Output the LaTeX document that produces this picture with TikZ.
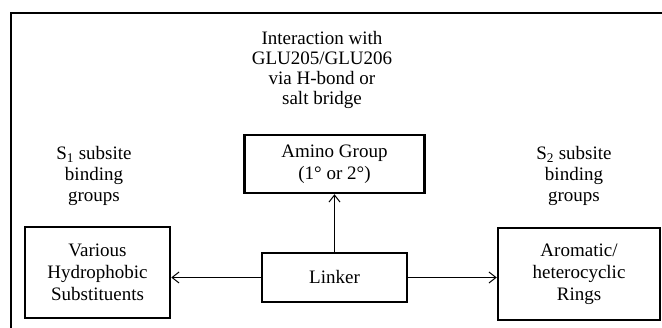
\documentclass[tikz,border=0pt]{standalone}
\usepackage{fontspec}
\setmainfont{Liberation Serif}
\usetikzlibrary{arrows.meta}
\begin{document}
\begin{tikzpicture}[x=1pt,y=-1pt,
  box/.style={draw, line width=2.5pt, inner sep=0pt, align=center,
              font=\fontsize{19}{22}\selectfont},
  lbl/.style={align=center, inner sep=0pt, font=\fontsize{19}{21}\selectfont},
  conn/.style={line width=1pt, -{Straight Barb[length=7pt,width=11pt]}}]
\useasboundingbox (0,0) rectangle (662,328);
\fill[white] (0,0) rectangle (662,328);
\draw[line width=2pt] (11,340) -- (11,13) -- (680,13);
\node[box, minimum width=145pt, minimum height=91pt] (hyd) at (97.5,272.5)
  {Various\\Hydrophobic\\Substituents};
\node[box, minimum width=162pt, minimum height=92pt] (aro) at (579,274)
  {Aromatic/\\heterocyclic\\Rings};
\node[box, minimum width=145pt, minimum height=49pt] (lnk) at (334.5,277.5)
  {Linker};
\node[box, minimum width=180pt, minimum height=58pt] (ami) at (334.5,164)
  {Amino Group\\(1° or 2°)};
\node[lbl, font=\fontsize{19}{20}\selectfont] (int) at (322,70)
  {Interaction with\\GLU205/GLU206\\via H-bond or\\salt bridge};
\node[lbl] (s1) at (94,176) {S\textsubscript{1} subsite\\binding\\groups};
\node[lbl] (s2) at (574,176) {S\textsubscript{2} subsite\\binding\\groups};
\draw[conn] (lnk.west) -- (hyd.east |- lnk.west);
\draw[conn] (lnk.east) -- (aro.west |- lnk.east);
\draw[conn] (lnk.north) -- (ami.south);
\end{tikzpicture}
\end{document}
